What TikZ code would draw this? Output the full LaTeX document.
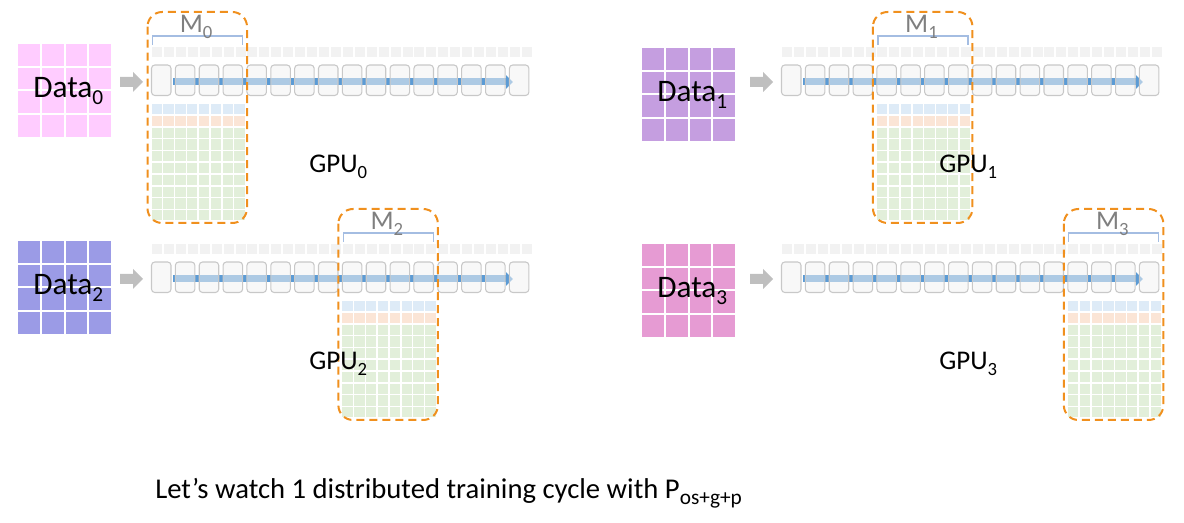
\documentclass[tikz,border=0pt]{standalone}
\usepackage{fontspec}
\setmainfont{Carlito}
\usetikzlibrary{arrows.meta}
\definecolor{dataA}{HTML}{FFCCFF}
\definecolor{dataB}{HTML}{C59EE0}
\definecolor{dataC}{HTML}{9B9BE6}
\definecolor{dataD}{HTML}{E69BD3}
\definecolor{sqgray}{HTML}{F2F2F2}
\definecolor{blockfill}{HTML}{F2F2F2}
\definecolor{blockline}{HTML}{C8C8C8}
\definecolor{arrowblue}{HTML}{5B9BD5}
\definecolor{arrgray}{HTML}{BFBFBF}
\definecolor{memblue}{HTML}{DEEBF7}
\definecolor{memorange}{HTML}{FBE5D6}
\definecolor{memgreen}{HTML}{E2EFDA}
\definecolor{mboxorange}{HTML}{F0901E}
\definecolor{brk}{HTML}{A4BDE2}
\definecolor{mgray}{HTML}{7F7F7F}
\newcommand\gsub[1]{\raisebox{-4.5pt}{\fontsize{14}{14}\selectfont #1}}
\newcommand\dsub[1]{\raisebox{-5pt}{\fontsize{16}{16}\selectfont #1}}
\tikzset{
  bigtext/.style={font=\fontsize{20.25}{24}\selectfont, inner sep=0pt},
  datatext/.style={font=\fontsize{23.5}{26}\selectfont, inner sep=0pt},
  captext/.style={font=\fontsize{21.5}{26}\selectfont, inner sep=0pt},
  gridline/.style={white, line width=1.5pt},
  blockbox/.style={fill=blockfill, fill opacity=0.55, draw=blockline, line width=0.8pt, rounded corners=2.5pt},
  flowarrow/.style={arrowblue, line width=5.25pt, -{Triangle[length=5.25pt,width=10pt]}},
  bracketline/.style={brk, line width=0.9pt},
  membox/.style={draw=mboxorange, line width=1.5pt, dash pattern=on 6pt off 3.75pt, rounded corners=11pt},
}
% #1 dx, #2 dy, #3 data colour, #4 data dx, #5 data dy, #6 index, #7 first block of M
\newcommand\gpupanel[7]{%
\begin{scope}[shift={(#1,#2)}]
  \begin{scope}[shift={(#4,#5)}]
    \fill[#3] (18,44) rectangle (111,137);
    \foreach \k in {1,2,3} {
      \draw[gridline] (18+\k*23.25,44) -- (18+\k*23.25,137);
      \draw[gridline] (18,44+\k*23.25) -- (111,44+\k*23.25);
    }
    \node[datatext, anchor=base west] (data#6) at (33,98) {Data\dsub{#6}};
  \end{scope}
  \fill[arrgray] (120,77) -- (133,77) -- (133,72) -- (143,82) -- (133,92) -- (133,87) -- (120,87) -- cycle;
  \foreach \i in {0,...,31} \fill[sqgray] (152+\i*11.93,47) rectangle ++(10,10);
  \coordinate (fs#6) at (173,82);
  \coordinate (fe#6) at (513,82);
  \draw[flowarrow] (fs#6) -- (fe#6);
  \foreach \i in {0,...,15} \draw[blockbox] (151.5+\i*23.86,65) rectangle ++(19.5,30.5);
  \pgfmathsetmacro\gx{151.5+#7*23.86}
  \foreach \r in {0,...,9} {
    \ifnum\r=0 \def\cc{memblue}\else\ifnum\r=1 \def\cc{memorange}\else\def\cc{memgreen}\fi\fi
    \foreach \c in {0,...,7} \fill[\cc] (\gx+\c*11.85,104+\r*11.8) rectangle ++(10.3,10.3);
  }
  \draw[bracketline] (\gx+1,45) -- (\gx+1,36) -- (\gx+91,36) -- (\gx+91,45);
  \node[bigtext, anchor=base west, text=mgray] (m#6) at (\gx+28,33) {M\gsub{#6}};
  \draw[membox] (\gx-4,12) rectangle (\gx+95.5,223);
  \node[bigtext, anchor=base west] (gpu#6) at (309,173) {GPU\gsub{#6}};
\end{scope}}
\begin{document}
\begin{tikzpicture}[x=0.75pt,y=-0.75pt]
\useasboundingbox (0,0) rectangle (1184,523);
\gpupanel{0}{0}{dataA}{0}{0}{0}{0}
\gpupanel{630}{0}{dataB}{-6}{4}{1}{4}
\gpupanel{0}{197}{dataC}{0}{0}{2}{8}
\gpupanel{630}{197}{dataD}{-6}{3}{3}{12}
\node[captext, anchor=base west] (caption) at (155,498) {Let’s watch 1 distributed training cycle with P\dsub{os+g+p}};
\end{tikzpicture}
\end{document}
